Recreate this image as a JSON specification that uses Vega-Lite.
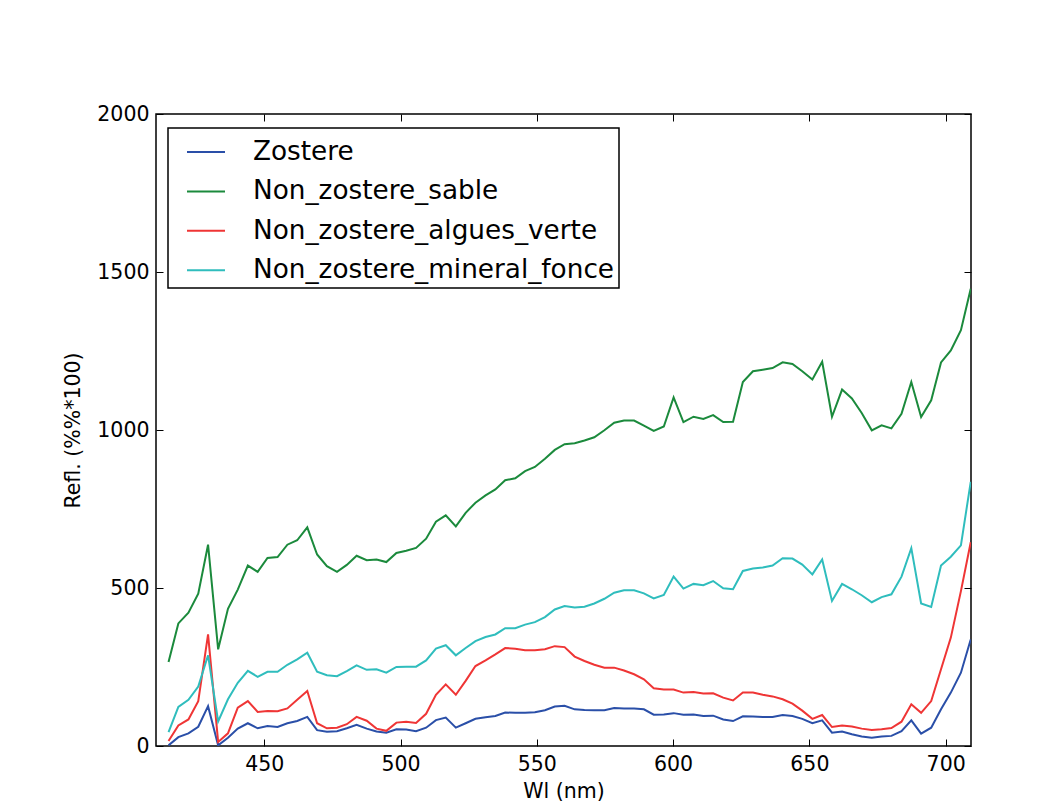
{
  "$schema": "https://vega.github.io/schema/vega-lite/v6.json",
  "width": 815,
  "height": 632,
  "autosize": {"type": "none"},
  "padding": {"left": 156, "top": 114, "right": 91, "bottom": 58},
  "background": "white",
  "config": {
    "view": {"stroke": "black", "strokeWidth": 1.5},
    "font": "DejaVu Sans",
    "axis": {
      "grid": false,
      "domain": false,
      "tickColor": "black",
      "tickWidth": 1,
      "tickSize": -7,
      "labelColor": "black",
      "labelFont": "DejaVu Sans",
      "labelFontSize": 20.5,
      "titleFont": "DejaVu Sans",
      "titleFontSize": 20.5,
      "titleFontWeight": "normal",
      "titleColor": "black"
    },
    "legend": {
      "strokeColor": "black",
      "strokeWidth": 1.5,
      "fillColor": "white",
      "padding": 4,
      "symbolType": "stroke",
      "symbolSize": 1444,
      "symbolStrokeWidth": 2,
      "symbolOffset": 14,
      "labelFont": "DejaVu Sans",
      "labelFontSize": 26.3,
      "labelColor": "black",
      "labelOffset": 27,
      "rowPadding": 5.4,
      "labelLimit": 600
    }
  },
  "data": {"values": [
    {"wl":414.9,"Zostere":2,"Non_zostere_sable":266,"Non_zostere_algues_verte":16,"Non_zostere_mineral_fonce":44},
    {"wl":418.5,"Zostere":28,"Non_zostere_sable":388,"Non_zostere_algues_verte":65,"Non_zostere_mineral_fonce":124},
    {"wl":422.2,"Zostere":40,"Non_zostere_sable":422,"Non_zostere_algues_verte":84,"Non_zostere_mineral_fonce":146},
    {"wl":425.8,"Zostere":61,"Non_zostere_sable":482,"Non_zostere_algues_verte":142,"Non_zostere_mineral_fonce":188},
    {"wl":429.4,"Zostere":126,"Non_zostere_sable":637,"Non_zostere_algues_verte":353,"Non_zostere_mineral_fonce":287},
    {"wl":433.1,"Zostere":2,"Non_zostere_sable":306,"Non_zostere_algues_verte":13,"Non_zostere_mineral_fonce":78},
    {"wl":436.7,"Zostere":26,"Non_zostere_sable":434,"Non_zostere_algues_verte":40,"Non_zostere_mineral_fonce":148},
    {"wl":440.3,"Zostere":55,"Non_zostere_sable":495,"Non_zostere_algues_verte":121,"Non_zostere_mineral_fonce":200},
    {"wl":444.0,"Zostere":72,"Non_zostere_sable":571,"Non_zostere_algues_verte":142,"Non_zostere_mineral_fonce":238},
    {"wl":447.6,"Zostere":56,"Non_zostere_sable":551,"Non_zostere_algues_verte":108,"Non_zostere_mineral_fonce":219},
    {"wl":451.2,"Zostere":63,"Non_zostere_sable":595,"Non_zostere_algues_verte":111,"Non_zostere_mineral_fonce":235},
    {"wl":454.9,"Zostere":60,"Non_zostere_sable":598,"Non_zostere_algues_verte":110,"Non_zostere_mineral_fonce":235},
    {"wl":458.5,"Zostere":72,"Non_zostere_sable":637,"Non_zostere_algues_verte":119,"Non_zostere_mineral_fonce":257},
    {"wl":462.1,"Zostere":79,"Non_zostere_sable":651,"Non_zostere_algues_verte":146,"Non_zostere_mineral_fonce":274},
    {"wl":465.8,"Zostere":92,"Non_zostere_sable":692,"Non_zostere_algues_verte":174,"Non_zostere_mineral_fonce":295},
    {"wl":469.4,"Zostere":50,"Non_zostere_sable":606,"Non_zostere_algues_verte":72,"Non_zostere_mineral_fonce":235},
    {"wl":473.0,"Zostere":45,"Non_zostere_sable":569,"Non_zostere_algues_verte":56,"Non_zostere_mineral_fonce":224},
    {"wl":476.7,"Zostere":47,"Non_zostere_sable":551,"Non_zostere_algues_verte":58,"Non_zostere_mineral_fonce":221},
    {"wl":480.3,"Zostere":56,"Non_zostere_sable":573,"Non_zostere_algues_verte":69,"Non_zostere_mineral_fonce":237},
    {"wl":483.9,"Zostere":67,"Non_zostere_sable":602,"Non_zostere_algues_verte":92,"Non_zostere_mineral_fonce":255},
    {"wl":487.6,"Zostere":55,"Non_zostere_sable":588,"Non_zostere_algues_verte":80,"Non_zostere_mineral_fonce":241},
    {"wl":491.2,"Zostere":46,"Non_zostere_sable":590,"Non_zostere_algues_verte":55,"Non_zostere_mineral_fonce":243},
    {"wl":494.8,"Zostere":42,"Non_zostere_sable":582,"Non_zostere_algues_verte":48,"Non_zostere_mineral_fonce":232},
    {"wl":498.5,"Zostere":53,"Non_zostere_sable":611,"Non_zostere_algues_verte":74,"Non_zostere_mineral_fonce":250},
    {"wl":502.1,"Zostere":52,"Non_zostere_sable":618,"Non_zostere_algues_verte":77,"Non_zostere_mineral_fonce":251},
    {"wl":505.7,"Zostere":47,"Non_zostere_sable":627,"Non_zostere_algues_verte":73,"Non_zostere_mineral_fonce":251},
    {"wl":509.4,"Zostere":58,"Non_zostere_sable":656,"Non_zostere_algues_verte":102,"Non_zostere_mineral_fonce":271},
    {"wl":513.0,"Zostere":82,"Non_zostere_sable":710,"Non_zostere_algues_verte":162,"Non_zostere_mineral_fonce":308},
    {"wl":516.6,"Zostere":90,"Non_zostere_sable":730,"Non_zostere_algues_verte":195,"Non_zostere_mineral_fonce":319},
    {"wl":520.3,"Zostere":58,"Non_zostere_sable":695,"Non_zostere_algues_verte":162,"Non_zostere_mineral_fonce":287},
    {"wl":523.9,"Zostere":72,"Non_zostere_sable":738,"Non_zostere_algues_verte":206,"Non_zostere_mineral_fonce":310},
    {"wl":527.5,"Zostere":86,"Non_zostere_sable":770,"Non_zostere_algues_verte":253,"Non_zostere_mineral_fonce":332},
    {"wl":531.2,"Zostere":91,"Non_zostere_sable":793,"Non_zostere_algues_verte":271,"Non_zostere_mineral_fonce":345},
    {"wl":534.8,"Zostere":95,"Non_zostere_sable":812,"Non_zostere_algues_verte":290,"Non_zostere_mineral_fonce":353},
    {"wl":538.4,"Zostere":106,"Non_zostere_sable":841,"Non_zostere_algues_verte":310,"Non_zostere_mineral_fonce":373},
    {"wl":542.1,"Zostere":105,"Non_zostere_sable":847,"Non_zostere_algues_verte":308,"Non_zostere_mineral_fonce":373},
    {"wl":545.7,"Zostere":105,"Non_zostere_sable":870,"Non_zostere_algues_verte":303,"Non_zostere_mineral_fonce":384},
    {"wl":549.3,"Zostere":107,"Non_zostere_sable":883,"Non_zostere_algues_verte":303,"Non_zostere_mineral_fonce":392},
    {"wl":553.0,"Zostere":113,"Non_zostere_sable":909,"Non_zostere_algues_verte":306,"Non_zostere_mineral_fonce":408},
    {"wl":556.6,"Zostere":125,"Non_zostere_sable":937,"Non_zostere_algues_verte":316,"Non_zostere_mineral_fonce":432},
    {"wl":560.2,"Zostere":127,"Non_zostere_sable":955,"Non_zostere_algues_verte":313,"Non_zostere_mineral_fonce":443},
    {"wl":563.9,"Zostere":116,"Non_zostere_sable":958,"Non_zostere_algues_verte":283,"Non_zostere_mineral_fonce":438},
    {"wl":567.5,"Zostere":114,"Non_zostere_sable":967,"Non_zostere_algues_verte":269,"Non_zostere_mineral_fonce":441},
    {"wl":571.1,"Zostere":113,"Non_zostere_sable":977,"Non_zostere_algues_verte":257,"Non_zostere_mineral_fonce":451},
    {"wl":574.8,"Zostere":113,"Non_zostere_sable":999,"Non_zostere_algues_verte":248,"Non_zostere_mineral_fonce":466},
    {"wl":578.4,"Zostere":120,"Non_zostere_sable":1023,"Non_zostere_algues_verte":248,"Non_zostere_mineral_fonce":485},
    {"wl":582.0,"Zostere":119,"Non_zostere_sable":1030,"Non_zostere_algues_verte":239,"Non_zostere_mineral_fonce":493},
    {"wl":585.7,"Zostere":119,"Non_zostere_sable":1030,"Non_zostere_algues_verte":227,"Non_zostere_mineral_fonce":493},
    {"wl":589.3,"Zostere":116,"Non_zostere_sable":1014,"Non_zostere_algues_verte":211,"Non_zostere_mineral_fonce":483},
    {"wl":592.9,"Zostere":99,"Non_zostere_sable":997,"Non_zostere_algues_verte":183,"Non_zostere_mineral_fonce":467},
    {"wl":596.6,"Zostere":100,"Non_zostere_sable":1011,"Non_zostere_algues_verte":179,"Non_zostere_mineral_fonce":478},
    {"wl":600.2,"Zostere":104,"Non_zostere_sable":1103,"Non_zostere_algues_verte":179,"Non_zostere_mineral_fonce":536},
    {"wl":603.8,"Zostere":99,"Non_zostere_sable":1025,"Non_zostere_algues_verte":169,"Non_zostere_mineral_fonce":498},
    {"wl":607.5,"Zostere":100,"Non_zostere_sable":1042,"Non_zostere_algues_verte":171,"Non_zostere_mineral_fonce":513},
    {"wl":611.1,"Zostere":95,"Non_zostere_sable":1035,"Non_zostere_algues_verte":166,"Non_zostere_mineral_fonce":509},
    {"wl":614.7,"Zostere":96,"Non_zostere_sable":1047,"Non_zostere_algues_verte":167,"Non_zostere_mineral_fonce":522},
    {"wl":618.4,"Zostere":84,"Non_zostere_sable":1025,"Non_zostere_algues_verte":153,"Non_zostere_mineral_fonce":499},
    {"wl":622.0,"Zostere":79,"Non_zostere_sable":1026,"Non_zostere_algues_verte":144,"Non_zostere_mineral_fonce":496},
    {"wl":625.6,"Zostere":94,"Non_zostere_sable":1152,"Non_zostere_algues_verte":169,"Non_zostere_mineral_fonce":554},
    {"wl":629.3,"Zostere":93,"Non_zostere_sable":1186,"Non_zostere_algues_verte":169,"Non_zostere_mineral_fonce":562},
    {"wl":632.9,"Zostere":92,"Non_zostere_sable":1191,"Non_zostere_algues_verte":162,"Non_zostere_mineral_fonce":565},
    {"wl":636.5,"Zostere":92,"Non_zostere_sable":1196,"Non_zostere_algues_verte":157,"Non_zostere_mineral_fonce":571},
    {"wl":640.2,"Zostere":98,"Non_zostere_sable":1214,"Non_zostere_algues_verte":148,"Non_zostere_mineral_fonce":594},
    {"wl":643.8,"Zostere":95,"Non_zostere_sable":1209,"Non_zostere_algues_verte":134,"Non_zostere_mineral_fonce":593},
    {"wl":647.4,"Zostere":86,"Non_zostere_sable":1186,"Non_zostere_algues_verte":112,"Non_zostere_mineral_fonce":574},
    {"wl":651.1,"Zostere":72,"Non_zostere_sable":1160,"Non_zostere_algues_verte":86,"Non_zostere_mineral_fonce":543},
    {"wl":654.7,"Zostere":81,"Non_zostere_sable":1216,"Non_zostere_algues_verte":98,"Non_zostere_mineral_fonce":590},
    {"wl":658.3,"Zostere":42,"Non_zostere_sable":1042,"Non_zostere_algues_verte":60,"Non_zostere_mineral_fonce":459},
    {"wl":662.0,"Zostere":46,"Non_zostere_sable":1128,"Non_zostere_algues_verte":65,"Non_zostere_mineral_fonce":513},
    {"wl":665.6,"Zostere":37,"Non_zostere_sable":1100,"Non_zostere_algues_verte":62,"Non_zostere_mineral_fonce":496},
    {"wl":669.2,"Zostere":30,"Non_zostere_sable":1054,"Non_zostere_algues_verte":55,"Non_zostere_mineral_fonce":477},
    {"wl":672.9,"Zostere":26,"Non_zostere_sable":999,"Non_zostere_algues_verte":51,"Non_zostere_mineral_fonce":455},
    {"wl":676.5,"Zostere":30,"Non_zostere_sable":1015,"Non_zostere_algues_verte":53,"Non_zostere_mineral_fonce":471},
    {"wl":680.1,"Zostere":32,"Non_zostere_sable":1005,"Non_zostere_algues_verte":57,"Non_zostere_mineral_fonce":480},
    {"wl":683.8,"Zostere":47,"Non_zostere_sable":1051,"Non_zostere_algues_verte":77,"Non_zostere_mineral_fonce":536},
    {"wl":687.4,"Zostere":81,"Non_zostere_sable":1152,"Non_zostere_algues_verte":132,"Non_zostere_mineral_fonce":626},
    {"wl":691.0,"Zostere":39,"Non_zostere_sable":1041,"Non_zostere_algues_verte":105,"Non_zostere_mineral_fonce":451},
    {"wl":694.7,"Zostere":58,"Non_zostere_sable":1094,"Non_zostere_algues_verte":142,"Non_zostere_mineral_fonce":440},
    {"wl":698.3,"Zostere":116,"Non_zostere_sable":1214,"Non_zostere_algues_verte":243,"Non_zostere_mineral_fonce":571},
    {"wl":701.9,"Zostere":169,"Non_zostere_sable":1252,"Non_zostere_algues_verte":343,"Non_zostere_mineral_fonce":599},
    {"wl":705.6,"Zostere":232,"Non_zostere_sable":1316,"Non_zostere_algues_verte":490,"Non_zostere_mineral_fonce":635},
    {"wl":709.2,"Zostere":337,"Non_zostere_sable":1447,"Non_zostere_algues_verte":645,"Non_zostere_mineral_fonce":836}
  ]},
  "transform": [
    {"fold": ["Zostere", "Non_zostere_sable", "Non_zostere_algues_verte", "Non_zostere_mineral_fonce"], "as": ["series", "refl"]}
  ],
  "layer": [
    {
      "mark": {"type": "line", "strokeWidth": 2, "clip": true},
      "encoding": {
        "x": {
          "field": "wl", "type": "quantitative",
          "scale": {"domain": [410.3, 709.3], "nice": false, "zero": false},
          "axis": {"orient": "bottom", "values": [450, 500, 550, 600, 650, 700], "format": "d", "title": "Wl (nm)", "labelPadding": 15, "titlePadding": 7}
        },
        "y": {
          "field": "refl", "type": "quantitative",
          "scale": {"domain": [0, 2000], "nice": false},
          "axis": {"orient": "left", "values": [0, 500, 1000, 1500, 2000], "format": "d", "title": "Refl. (%%*100)", "labelPadding": 14, "titlePadding": 13}
        },
        "color": {
          "field": "series", "type": "nominal",
          "scale": {
            "domain": ["Zostere", "Non_zostere_sable", "Non_zostere_algues_verte", "Non_zostere_mineral_fonce"],
            "range": ["#2a4fa8", "#1b8a3c", "#ef3535", "#2fbdbd"]
          },
          "legend": {
            "title": null,
            "orient": "none",
            "legendX": 12,
            "legendY": 14,
            "direction": "vertical"
          }
        }
      }
    },
    {
      "mark": {"type": "line", "opacity": 0},
      "encoding": {
        "x": {"field": "wl", "type": "quantitative", "axis": {"orient": "top", "values": [450, 500, 550, 600, 650, 700], "labels": false, "title": null}},
        "y": {"field": "refl", "type": "quantitative", "axis": {"orient": "right", "values": [0, 500, 1000, 1500, 2000], "labels": false, "title": null}},
        "detail": {"field": "series"}
      }
    }
  ]
}
